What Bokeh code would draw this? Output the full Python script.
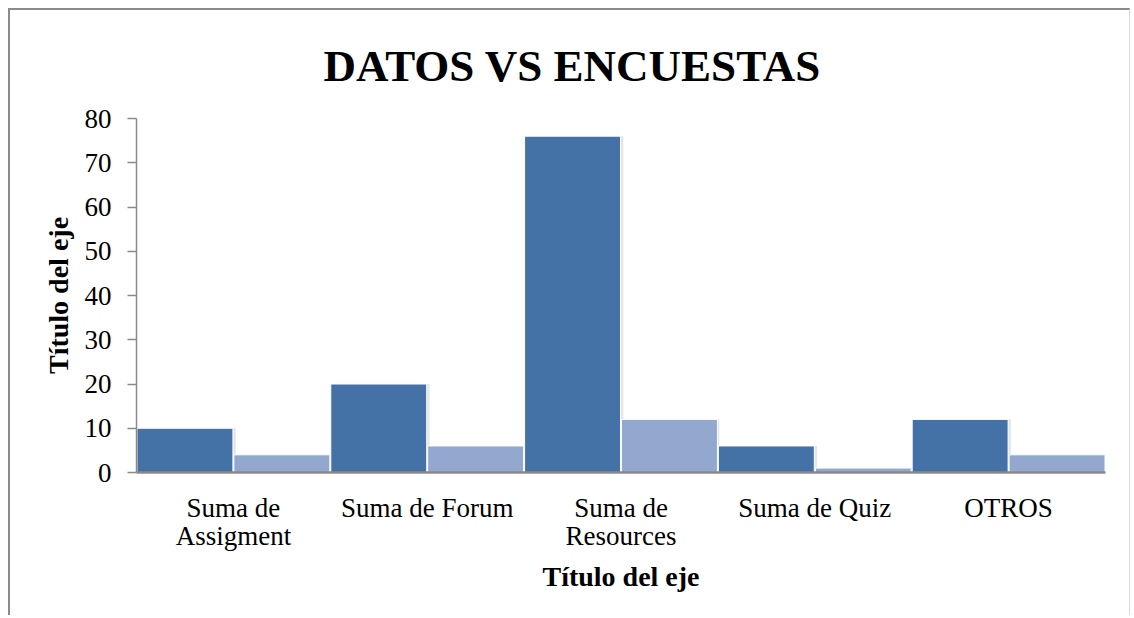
from bokeh.plotting import figure
from bokeh.models import ColumnDataSource, Range1d, FactorRange
from bokeh.transform import dodge
from bokeh.embed import file_html
from bokeh.resources import INLINE

categories = ["Suma de\nAssigment", "Suma de Forum", "Suma de\nResources", "Suma de Quiz", "OTROS"]
datos = [10, 20, 76, 6, 12]
encuestas = [4, 6, 12, 1, 4]
y_ticks = [0, 10, 20, 30, 40, 50, 60, 70, 80]

src = ColumnDataSource(dict(cat=categories, datos=datos, encuestas=encuestas))

SERIF = "Liberation Serif"
p = figure(
    x_range=FactorRange(*categories, range_padding=0),
    y_range=Range1d(0, 80),
    width=1122, height=607,
    output_backend="svg", toolbar_location=None,
    min_border_left=126, min_border_right=27, min_border_top=108, min_border_bottom=145,
    title="DATOS VS ENCUESTAS",
)
p.styles = {"margin-left": "8px", "margin-top": "8px",
            "border-left": "2px solid #8a8a8a", "border-top": "2px solid #8a8a8a",
            "border-right": "1px solid #d9d9d9"}

p.title.text_font = SERIF
p.title.text_font_size = "45px"
p.title.text_font_style = "bold"
p.title.align = "left"
p.title.offset = 187
p.title.standoff = 55
p.title.text_color = "black"

# soft shadows
p.vbar(x=dodge("cat", -0.245 + 0.012, range=p.x_range), top="datos", width=0.49, bottom=0,
       source=src, fill_color="#000000", fill_alpha=0.10, line_color=None)
p.vbar(x=dodge("cat", 0.25 + 0.012, range=p.x_range), top="encuestas", width=0.49, bottom=0,
       source=src, fill_color="#000000", fill_alpha=0.10, line_color=None)

p.vbar(x=dodge("cat", -0.25, range=p.x_range), top="datos", width=0.495, source=src,
       fill_color="#4472A7", line_color="white", line_width=1)
p.vbar(x=dodge("cat", 0.25, range=p.x_range), top="encuestas", width=0.495, source=src,
       fill_color="#93A8CF", line_color="white", line_width=1)

p.xgrid.visible = False
p.ygrid.visible = False
p.outline_line_color = None

p.yaxis.ticker = y_ticks
p.yaxis.minor_tick_line_color = None
p.yaxis.major_tick_out = 9
p.yaxis.major_tick_in = 0
p.yaxis.axis_line_color = "#8a8a8a"
p.yaxis.axis_line_width = 1.5
p.yaxis.major_tick_line_color = "#8a8a8a"
p.yaxis.major_tick_line_width = 1.5
p.yaxis.major_label_standoff = 16
p.yaxis.axis_label = "Título del eje"
p.yaxis.axis_label_standoff = 8

p.xaxis.major_tick_line_color = None
p.xaxis.axis_line_color = "#8a8a8a"
p.xaxis.axis_line_width = 2.5
p.xaxis.major_label_standoff = 14
p.xaxis.major_label_text_line_height = 0.95
p.xaxis.axis_label = "Título del eje"
p.xaxis.axis_label_standoff = 7
p.xaxis.major_label_orientation = "horizontal"

for ax in (p.xaxis, p.yaxis):
    ax.major_label_text_font = SERIF
    ax.major_label_text_font_size = "27px"
    ax.major_label_text_color = "black"
    ax.axis_label_text_font = SERIF
    ax.axis_label_text_font_size = "28px"
    ax.axis_label_text_font_style = "bold"
    ax.axis_label_text_color = "black"

open("out.html", "w").write(file_html(p, INLINE))
